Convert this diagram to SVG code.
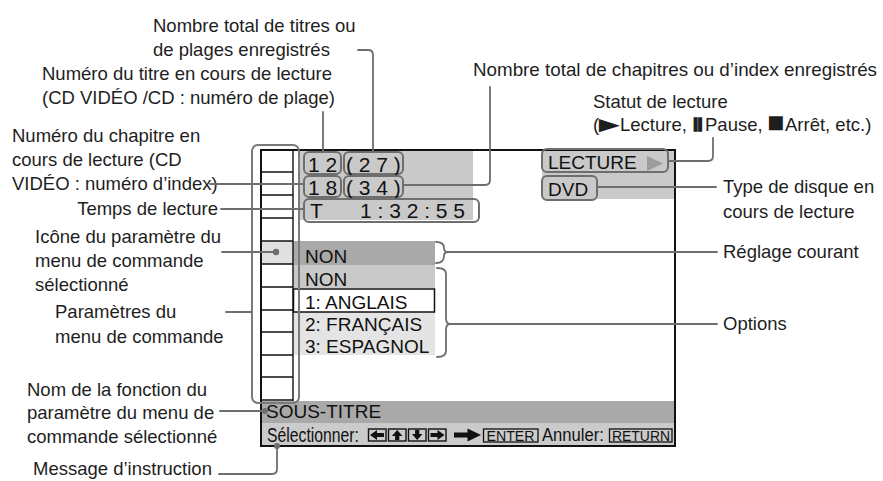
<svg xmlns="http://www.w3.org/2000/svg" width="883" height="481" viewBox="0 0 883 481">
<style>
.lbl{font-family:"Liberation Sans",Arial,sans-serif;font-size:18.5px;fill:#1e1e1e}
.scr{font-family:"Liberation Sans",Arial,sans-serif;font-size:19px;fill:#111}
.dig{font-family:"Liberation Sans",Arial,sans-serif;font-size:21px;fill:#111}
.key{font-family:"Liberation Sans",Arial,sans-serif;font-size:14.5px;fill:#111}
.con{fill:none;stroke:#6e6e6e;stroke-width:1.8;stroke-linecap:round;stroke-linejoin:round}
.rb{fill:none;stroke:#6e6e6e;stroke-width:2}
.dot{fill:#6e6e6e}
.blk{stroke:#111;fill:none}
</style>
<rect width="883" height="481" fill="#fff"/>

<g id="screen">
  <rect x="299" y="150" width="174" height="70" fill="#c9c9c9"/>
  <rect x="542" y="150" width="133" height="49" fill="#c9c9c9"/>
  <rect x="261" y="241" width="32" height="23" fill="#e0e0e0"/>
  <rect x="293" y="241" width="142" height="24" fill="#a9a9a9"/>
  <rect x="293" y="265" width="142" height="23" fill="#c9c9c9"/>
  <rect x="293" y="311" width="142" height="44" fill="#e4e4e4"/>
  <rect x="293.5" y="289" width="141" height="23" fill="#fff" stroke="#111" stroke-width="1.5"/>
  <rect x="261" y="401" width="414" height="22" fill="#a9a9a9"/>
  <rect x="261" y="423" width="414" height="23" fill="#cbcbcb"/>
  <g class="blk" stroke-width="1.4">
    <path d="M261,172H293M261,195H293M261,218H293M261,241H293M261,264H293M261,287H293M261,310H293M261,332H293M261,355H293M261,377H293M261,400H293"/>
    <path d="M293,150V401"/>
  </g>
  <rect x="261" y="150" width="414" height="296" class="blk" stroke-width="2"/>
  <rect x="252" y="145" width="47" height="258" rx="6" fill="none" stroke="#7a7a7a" stroke-width="2"/>

  <g id="n-title"><rect x="304" y="152" width="37" height="22" rx="5" class="rb"/><text x="308" y="172" class="dig">1 2</text></g>
  <g id="n-titletotal"><rect x="344" y="152" width="59" height="22" rx="5" class="rb"/><text x="346" y="172" class="dig">( 2 7 )</text></g>
  <g id="n-chap"><rect x="304" y="176" width="37" height="21" rx="5" class="rb"/><text x="308" y="195" class="dig">1 8</text></g>
  <g id="n-chaptotal"><rect x="344" y="176" width="59" height="21" rx="5" class="rb"/><text x="346" y="195" class="dig">( 3 4 )</text></g>
  <g id="n-time"><rect x="304" y="199" width="175" height="23" rx="5" class="rb"/><text x="310" y="218" class="dig">T</text><text x="360" y="218" class="dig" textLength="105" lengthAdjust="spacing">1 : 3 2 : 5 5</text></g>
  <g id="n-status"><rect x="542" y="149" width="126" height="23" rx="5" class="rb"/><text x="548" y="169" class="scr">LECTURE</text><path d="M647,156L663,163.5L647,171Z" fill="#9c9c9c"/></g>
  <g id="n-disc"><rect x="542" y="176" width="55" height="24" rx="5" class="rb"/><text x="548" y="196" class="scr">DVD</text></g>
  <g id="n-icon"><circle cx="276" cy="252" r="3.2" class="dot"/></g>
  <g id="n-menu">
    <text x="305" y="263" class="scr">NON</text>
    <text x="305" y="286" class="scr">NON</text>
    <text x="305" y="309" class="scr">1: ANGLAIS</text>
    <text x="305" y="331" class="scr">2: FRANÇAIS</text>
    <text x="305" y="353" class="scr">3: ESPAGNOL</text>
  </g>
  <g id="n-func"><text x="266" y="418" class="scr">SOUS-TITRE</text></g>
  <g id="n-instr">
    <text x="267" y="441.5" class="scr" style="font-size:20.5px" textLength="92" lengthAdjust="spacingAndGlyphs">Sélectionner:</text>
    <g class="blk" stroke-width="1.4">
      <rect x="368.5" y="429" width="17.5" height="12"/>
      <rect x="388.5" y="429" width="17.5" height="12"/>
      <rect x="408.5" y="429" width="17.5" height="12"/>
      <rect x="428.5" y="429" width="17.5" height="12"/>
    </g>
    <g fill="#111">
      <path d="M370,435L377,430V433H384V437H377V440Z"/>
      <path d="M397.2,430L402.5,436H399.3V440H395.1V436H391.9Z"/>
      <path d="M417.2,440L422.5,434H419.3V430H415.1V434H411.9Z"/>
      <path d="M444.5,435L437.5,430V433H430.5V437H437.5V440Z"/>
      <path d="M454,432.6H467.5V428.5L481,435L467.5,441.5V437.4H454Z"/>
    </g>
    <rect x="483.5" y="429" width="54.5" height="13" class="blk" stroke-width="1.3"/>
    <text x="486.5" y="440.5" class="key" textLength="48" lengthAdjust="spacingAndGlyphs">ENTER</text>
    <text x="542" y="441" class="scr" textLength="62" lengthAdjust="spacingAndGlyphs">Annuler:</text>
    <rect x="609.5" y="429" width="62.5" height="13" class="blk" stroke-width="1.3"/>
    <text x="612" y="440.5" class="key" textLength="58" lengthAdjust="spacingAndGlyphs">RETURN</text>
  </g>
</g>

<g id="labels">
  <g id="l-titletotal"><text x="153" y="32" class="lbl">Nombre total de titres ou</text><text x="153" y="56" class="lbl">de plages enregistrés</text></g>
  <g id="l-title"><text x="42" y="80" class="lbl">Numéro du titre en cours de lecture</text><text x="42" y="104" class="lbl">(CD VIDÉO /CD : numéro de plage)</text></g>
  <g id="l-chap"><text x="12" y="142" class="lbl">Numéro du chapitre en</text><text x="12" y="166" class="lbl">cours de lecture (CD</text><text x="12" y="190" class="lbl">VIDÉO : numéro d’index)</text></g>
  <g id="l-time"><text x="218" y="215" class="lbl" text-anchor="end">Temps de lecture</text></g>
  <g id="l-icon"><text x="35" y="243" class="lbl">Icône du paramètre du</text><text x="35" y="267" class="lbl">menu de commande</text><text x="35" y="291" class="lbl">sélectionné</text></g>
  <g id="l-params"><text x="55" y="318" class="lbl">Paramètres du</text><text x="55" y="343" class="lbl">menu de commande</text></g>
  <g id="l-func"><text x="27" y="396" class="lbl">Nom de la fonction du</text><text x="27" y="419" class="lbl">paramètre du menu de</text><text x="27" y="443" class="lbl">commande sélectionné</text></g>
  <g id="l-instr"><text x="33" y="475" class="lbl">Message d’instruction</text></g>
  <g id="l-chaptotal"><text x="473" y="76" class="lbl" textLength="404" lengthAdjust="spacingAndGlyphs">Nombre total de chapitres ou d’index enregistrés</text></g>
  <g id="l-status">
    <text x="593" y="108" class="lbl">Statut de lecture</text>
    <text x="593" y="131" class="lbl">(</text>
    <text transform="translate(592,131.5) scale(1.9,1.2)" class="lbl">►</text>
    <text x="620" y="131" class="lbl">Lecture,</text>
    <text x="693" y="131" class="lbl" font-weight="bold" stroke="#1e1e1e" stroke-width="1.4" letter-spacing="-0.6">II</text>
    <text x="705" y="131" class="lbl">Pause,</text>
    <text transform="translate(767,132) scale(1.55)" class="lbl">■</text>
    <text x="785" y="131" class="lbl">Arrêt, etc.)</text>
  </g>
  <g id="l-disc"><text x="723" y="193" class="lbl">Type de disque en</text><text x="723" y="218" class="lbl">cours de lecture</text></g>
  <g id="l-current"><text x="723" y="258" class="lbl">Réglage courant</text></g>
  <g id="l-options"><text x="723" y="330" class="lbl">Options</text></g>
</g>

<g id="connectors" class="con">
  <path d="M323,112V152"/>
  <path d="M358,50H368Q373,50 373,55V152"/>
  <path d="M490,87V180Q490,185 485,185H403"/>
  <path d="M713,138V156Q713,161 708,161H668"/>
  <path d="M597,187H716"/>
  <path d="M436,242Q444,242 444,248Q444,252 448,252Q444,252 444,256Q444,263 436,263M448,252H717"/>
  <path d="M437,268Q446,268 446,274V318Q446,324 450,324Q446,324 446,330V351Q446,357 437,357M450,324H717"/>
  <path d="M210,184H304"/>
  <path d="M221,209H304"/>
  <path d="M222,252H276"/>
  <path d="M226,312H252"/>
  <path d="M220,411H265"/>
  <path d="M219,474H272Q277,474 277,469V446"/>
</g>
<circle cx="265" cy="411" r="3" class="dot"/>
<circle cx="277" cy="446" r="3" class="dot"/>
</svg>
